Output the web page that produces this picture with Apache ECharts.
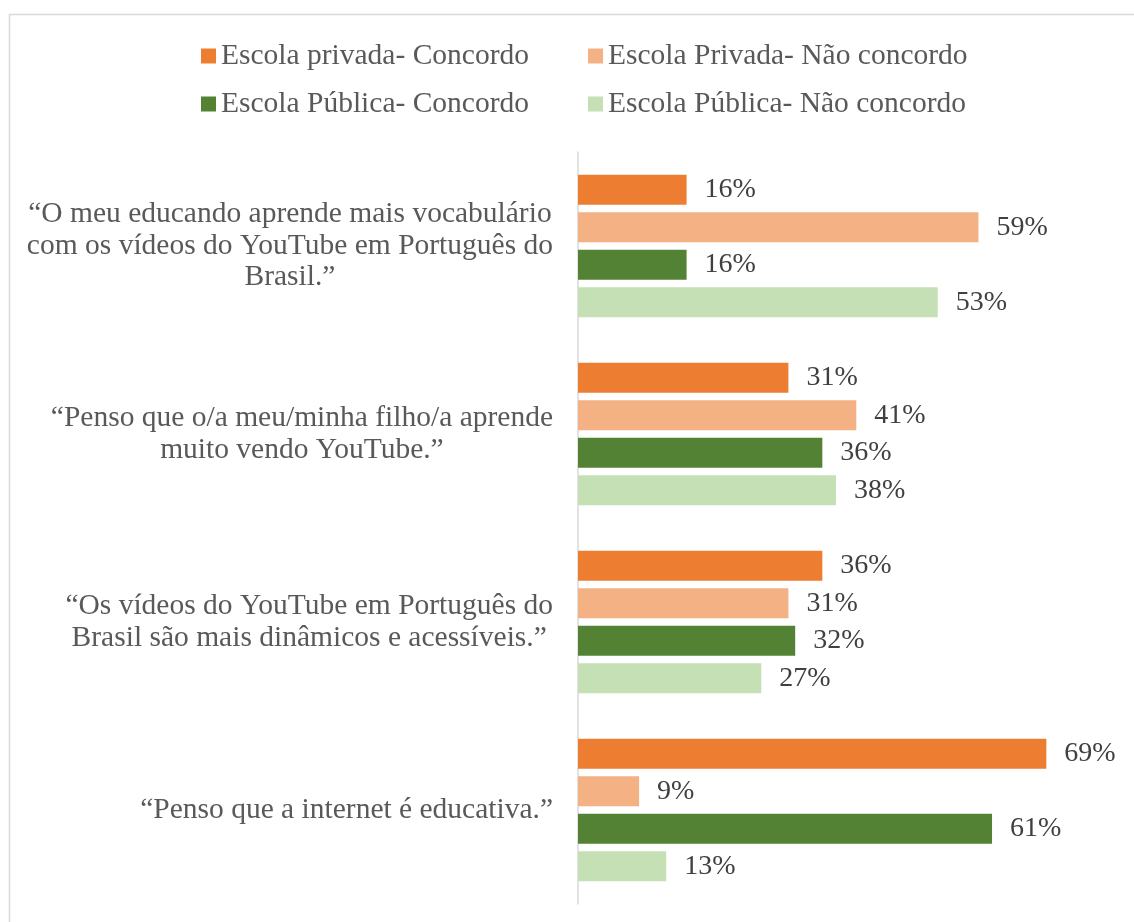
<!DOCTYPE html>
<html>
<head>
<meta charset="utf-8">
<script src="https://cdn.jsdelivr.net/npm/echarts@6/dist/echarts.min.js"></script>
<style>
html,body{margin:0;padding:0;background:#fff;}
#chart{width:1134px;height:922px;}
</style>
</head>
<body>
<div id="chart"></div>
<script>
const categories = [
  '“O meu educando aprende mais vocabulário\ncom os vídeos do YouTube em Português do\nBrasil.”',
  '“Penso que o/a meu/minha filho/a aprende\nmuito vendo YouTube.”',
  '“Os vídeos do YouTube em Português do\nBrasil são mais dinâmicos e acessíveis.”',
  '“Penso que a internet é educativa.”'
];
const seriesNames = [
  'Escola privada- Concordo',
  'Escola Privada- Não concordo',
  'Escola Pública- Concordo',
  'Escola Pública- Não concordo'
];
const privadaConcordo = [16, 31, 36, 69];
const privadaNaoConcordo = [59, 41, 31, 9];
const publicaConcordo = [16, 36, 32, 61];
const publicaNaoConcordo = [53, 38, 27, 13];

const colors = ['#ED7D31', '#F4B183', '#548235', '#C5E0B4'];
const values = [privadaConcordo, privadaNaoConcordo, publicaConcordo, publicaNaoConcordo];
const FONT = '"Liberation Serif", "Times New Roman", serif';

const legendPos = [
  {left: 201, top: 41},
  {left: 588, top: 41},
  {left: 201, top: 89},
  {left: 588, top: 89}
];

const chart = echarts.init(document.getElementById('chart'), null, {renderer: 'canvas'});
chart.setOption({
  animation: false,
  backgroundColor: '#fff',
  graphic: [{
    type: 'rect',
    shape: {x: 9.5, y: 14.5, width: 1300, height: 1100},
    style: {fill: 'none', stroke: '#d9d9d9', lineWidth: 1.5},
    silent: true
  }],
  legend: seriesNames.map((n, i) => ({
    data: [n],
    left: legendPos[i].left,
    top: legendPos[i].top,
    padding: 0,
    icon: 'rect',
    itemWidth: 15,
    itemHeight: 15,
    itemGap: 6,
    textStyle: {fontFamily: FONT, fontSize: 29.5, color: '#595959'}
  })),
  grid: {left: 578, right: 13, top: 152, bottom: 18, containLabel: false},
  xAxis: {
    type: 'value', min: 0, max: 80, show: false
  },
  yAxis: {
    type: 'category',
    inverse: true,
    data: categories,
    axisLine: {show: true, lineStyle: {color: '#d9d9d9', width: 1.5}},
    axisTick: {show: false},
    axisLabel: {
      margin: 25,
      align: 'right',
      formatter: v => v.split('\n').map(l => '{c|' + l + '}').join('\n'),
      rich: {
        c: {align: 'center', fontFamily: FONT, fontSize: 29.5, color: '#595959', lineHeight: 31.5}
      }
    }
  },
  series: seriesNames.map((n, i) => ({
    name: n,
    type: 'bar',
    data: values[i],
    barWidth: 30,
    barGap: '25%',
    itemStyle: {color: colors[i]},
    label: {
      show: true,
      position: 'right',
      distance: 18,
      formatter: '{c}%',
      fontFamily: FONT,
      fontSize: 28,
      color: '#404040'
    }
  }))
});
</script>
</body>
</html>
